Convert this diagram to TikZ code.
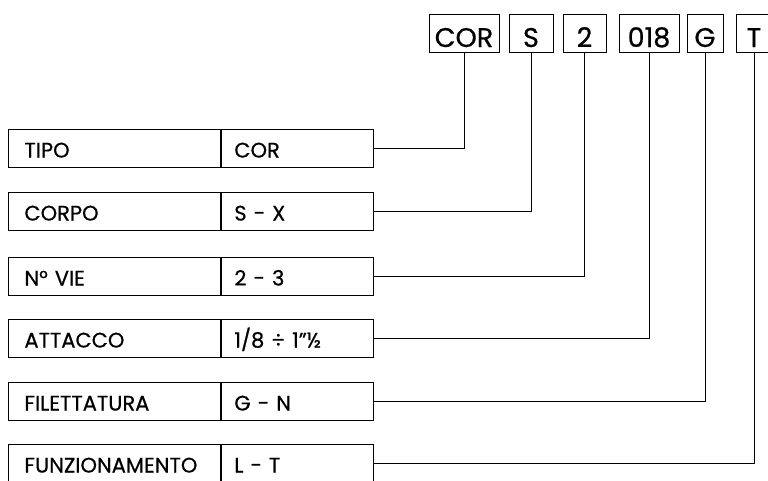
\documentclass[tikz,border=0pt]{standalone}
\usepackage{fontspec}
\setmainfont{Poppins}[FakeBold=0.6]
\usetikzlibrary{positioning}

\tikzset{
  campo/.style={rectangle, draw, line width=0.9pt, minimum height=38pt, text width=180pt,
    inner xsep=16pt, inner ysep=0pt, align=left, text height=19pt, text depth=0pt,
    font=\fontsize{21}{21}\selectfont},
  valore/.style={campo, text width=126pt, inner xsep=13pt},
  codice/.style={rectangle, draw, line width=0.9pt, minimum height=38pt, inner sep=0pt,
    text height=28pt, text depth=0pt, font=\fontsize{27}{27}\selectfont},
  linea/.style={line width=0.8pt}
}

\begin{document}
\begin{tikzpicture}[x=1pt, y=-1pt]
    \useasboundingbox (0,0) rectangle (768,480);

    % codice del prodotto
    \node (cor) [codice, minimum width=70pt] at (464,33) {COR};
    \node (s) [codice, minimum width=44pt] at (531,33) {S};
    \node (vie) [codice, minimum width=43pt] at (584.5,33) {2};
    \node (att) [codice, minimum width=60pt] at (649,33) {018};
    \node (g) [codice, minimum width=36pt] at (705,33) {G};
    \node (t) [codice, minimum width=36pt] at (754,33) {T};

    % tabella
    \node (tipo) [campo, anchor=west] at (8,148) {TIPO};
    \node (tipoV) [valore, right=0pt of tipo] {COR};
    \node (corpo) [campo, anchor=west] at (8,211) {CORPO};
    \node (corpoV) [valore, right=0pt of corpo] {S - X};
    \node (nvie) [campo, anchor=west] at (8,276) {N° VIE};
    \node (nvieV) [valore, right=0pt of nvie] {2 - 3};
    \node (attacco) [campo, anchor=west] at (8,338) {ATTACCO};
    \node (attaccoV) [valore, right=0pt of attacco] {1/8 ÷ 1”½};
    \node (filett) [campo, anchor=west] at (8,401) {FILETTATURA};
    \node (filettV) [valore, right=0pt of filett] {G - N};
    \node (funz) [campo, anchor=west] at (8,463) {FUNZIONAMENTO};
    \node (funzV) [valore, right=0pt of funz] {L - T};

    \draw [linea] (cor.south) |- (tipoV.east);
    \draw [linea] (s.south) |- (corpoV.east);
    \draw [linea] (vie.south) |- (nvieV.east);
    \draw [linea] (att.south) |- (attaccoV.east);
    \draw [linea] (g.south) |- (filettV.east);
    \draw [linea] (t.south) |- (funzV.east);
\end{tikzpicture}
\end{document}
